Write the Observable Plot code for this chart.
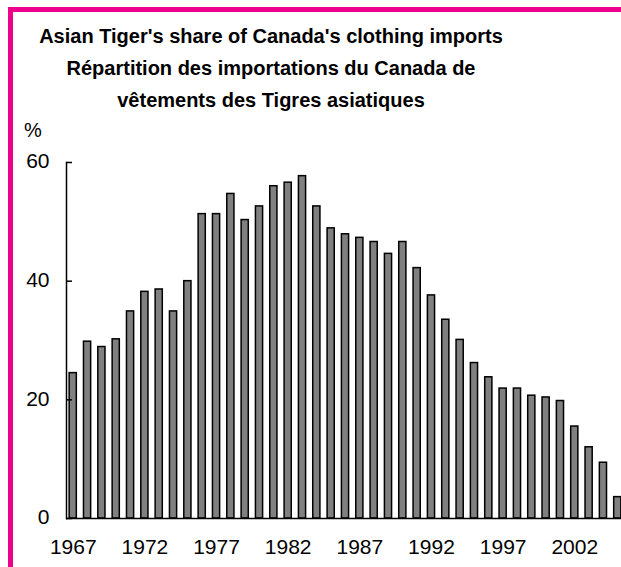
<!DOCTYPE html>
<html>
<head>
<meta charset="utf-8">
<script src="https://cdn.jsdelivr.net/npm/d3@7"></script>
<script src="https://cdn.jsdelivr.net/npm/@observablehq/plot@0.6"></script>
<style>
  html, body { margin: 0; padding: 0; background: #fff; overflow: hidden; width: 621px; height: 567px; }
  body { position: relative; font-family: "Liberation Sans", Arial, sans-serif; }
  #frameL { position: absolute; left: 8px; top: 7px; width: 5px; height: 560px; background: #ec008c; }
  #frameT { position: absolute; left: 8px; top: 7px; width: 613px; height: 5px; background: #ec008c; }
  #title { position: absolute; left: 0; top: 20px; width: 542px; text-align: center; font-weight: bold; font-size: 20px; line-height: 32px; color: #000; }
  #unit { position: absolute; left: 24px; top: 119px; font-size: 20px; color: #000; }
  #chart { position: absolute; left: 0; top: 0; width: 621px; height: 567px; }
  #chart svg { max-width: none !important; }
</style>
</head>
<body>
<div id="frameL"></div>
<div id="frameT"></div>
<div id="title"></div>
<div id="unit"></div>
<div id="chart"></div>
<script>
const titleLines = [
  "Asian Tiger's share of Canada's clothing imports",
  "Répartition des importations du Canada de",
  "vêtements des Tigres asiatiques"
];
const unitLabel = "%";
const years = [1967,1968,1969,1970,1971,1972,1973,1974,1975,1976,1977,1978,1979,1980,1981,1982,1983,1984,1985,1986,1987,1988,1989,1990,1991,1992,1993,1994,1995,1996,1997,1998,1999,2000,2001,2002,2003,2004,2005];
const shares = [24.5,29.8,28.9,30.2,34.9,38.2,38.6,34.9,40.0,51.3,51.3,54.7,50.3,52.6,56.0,56.6,57.7,52.6,48.9,47.9,47.3,46.6,44.6,46.6,42.2,37.6,33.5,30.1,26.2,23.8,21.9,21.9,20.7,20.4,19.8,15.5,12.0,9.4,3.6];
const xTicks = [1967,1972,1977,1982,1987,1992,1997,2002];
const yTicks = [0,20,40,60];

document.getElementById("title").innerHTML = titleLines.map(s => `<div>${s}</div>`).join("");
document.getElementById("unit").textContent = unitLabel;

const data = years.map((y, i) => ({year: y, value: shares[i]}));

const chart = Plot.plot({
  width: 621,
  height: 567,
  marginLeft: 66,
  marginRight: -3,
  marginTop: 162,
  marginBottom: 49,
  style: {fontFamily: "'Liberation Sans', Arial, sans-serif", fontSize: "21px", color: "#000", background: "transparent", maxWidth: "none"},
  x: {type: "band", domain: years, paddingInner: 0.5, paddingOuter: 0.22, round: false, label: null},
  y: {domain: [0, 60], label: null},
  marks: [
    Plot.barY(data, {x: "year", y: "value", fill: "#808080", stroke: "#000", strokeWidth: 1.5}),
    Plot.ruleY([0], {stroke: "#000", strokeWidth: 1.5}),
    Plot.frame({anchor: "left", stroke: "#000", strokeWidth: 1.5}),
    Plot.axisY(yTicks, {tickSize: -6, fill: "none", strokeWidth: 1.5, label: null}),
    Plot.axisY(yTicks, {tickSize: 0, tickPadding: 17, dy: -1, fontSize: 21, label: null}),
    Plot.axisX(xTicks, {tickSize: 0, tickPadding: 20.5, fontSize: 21, tickFormat: d => String(d), label: null})
  ]
});
document.getElementById("chart").appendChild(chart);
</script>
</body>
</html>
